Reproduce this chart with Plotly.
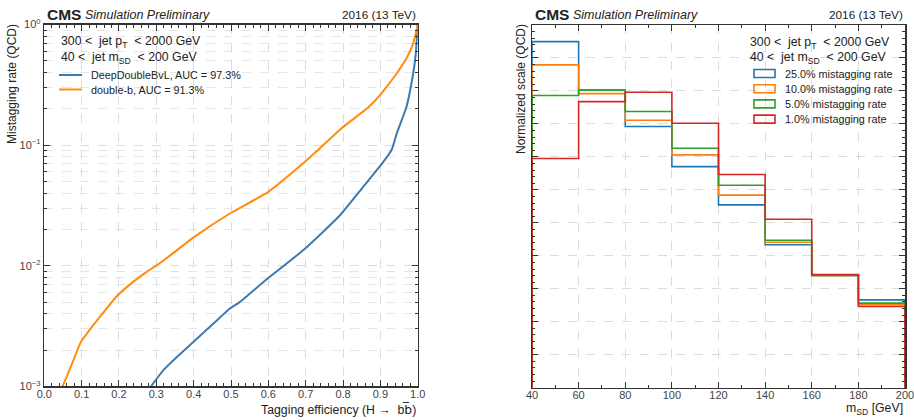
import plotly.graph_objects as go

# ---------------- data ----------------
# Left panel: ROC-like curves (tagging efficiency vs mistagging rate)
eff_ddb = [0.286, 0.319, 0.355, 0.399, 0.453, 0.497, 0.524, 0.587, 0.694, 0.792,
           0.854, 0.908, 0.930, 0.944, 0.970, 0.988, 0.995, 1.0]
mis_ddb = [1.0e-3, 1.36e-3, 1.75e-3, 2.33e-3, 3.31e-3, 4.41e-3, 5.01e-3, 7.34e-3, 1.35e-2, 2.62e-2,
           4.51e-2, 7.27e-2, 9.1e-2, 0.125, 0.208, 0.394, 0.577, 1.0]
eff_db = [0.049, 0.078, 0.098, 0.127, 0.163, 0.194, 0.238, 0.274, 0.317, 0.399, 0.497,
          0.600, 0.698, 0.738, 0.796, 0.868, 0.899, 0.944, 0.970, 0.988, 0.997, 1.0]
mis_db = [1.0e-3, 1.64e-3, 2.33e-3, 3.1e-3, 4.27e-3, 5.58e-3, 7.34e-3, 8.89e-3, 1.09e-2, 1.71e-2, 2.71e-2,
          4.1e-2, 7.27e-2, 9.4e-2, 0.138, 0.206, 0.26, 0.394, 0.525, 0.698, 0.9, 1.0]
roc_labels = ["DeepDoubleBvL, AUC = 97.3%", "double-b, AUC = 91.3%"]

# Right panel: normalized soft-drop mass distributions
mass_edges = [40, 60, 80, 100, 120, 140, 160, 180, 200]
rate_25 = [0.2099, 0.1806, 0.1584, 0.1341, 0.1109, 0.0867, 0.0681, 0.0533]
rate_10 = [0.1958, 0.1784, 0.1622, 0.1412, 0.1168, 0.0882, 0.0681, 0.0507]
rate_5 = [0.1772, 0.1804, 0.1675, 0.1452, 0.1228, 0.0894, 0.0681, 0.0513]
rate_1 = [0.1390, 0.1735, 0.1792, 0.1604, 0.1293, 0.1022, 0.0687, 0.0493]
hist_labels = ["25.0% mistagging rate", "10.0% mistagging rate",
               "5.0% mistagging rate", "1.0% mistagging rate"]

left_ticks = [1e-3, 1e-2, 1e-1, 1]
left_ticktext = ["10<sup>\u22123</sup>", "10<sup>\u22122</sup>", "10<sup>\u22121</sup>", "10<sup>0</sup>"]

# ---------------- style ----------------
W, H = 914, 420
FONT = "Liberation Sans, Arial, sans-serif"
C_BLUE, C_ORANGE, C_GREEN, C_RED = "#1f77b4", "#ff7f0e", "#2ca02c", "#d62728"
C_ROC = ["#3b7bb3", "#ff8c0a"]
C_HIST = [C_BLUE, C_ORANGE, C_GREEN, C_RED]
AX = "#333333"
GRID = "#dcdcdc"


def px(x):
    return x / W


def py(y):
    return 1 - y / H


L_X0, L_X1, L_Y0, L_Y1 = 44.3, 417.7, 24.5, 386.3
R_X0, R_X1, R_Y0, R_Y1 = 532.0, 905.0, 25.0, 387.7

fig = go.Figure()

for xs, ys, col, name in [(eff_ddb, mis_ddb, C_ROC[0], roc_labels[0]),
                          (eff_db, mis_db, C_ROC[1], roc_labels[1])]:
    fig.add_trace(go.Scatter(x=xs, y=ys, mode="lines",
                             line=dict(color=col, width=2, shape="spline", smoothing=0.5),
                             name=name, showlegend=False, hoverinfo="skip", xaxis="x", yaxis="y"))


def step_xy(edges, vals):
    xs, ys = [edges[0]], [0]
    for i, v in enumerate(vals):
        xs += [edges[i], edges[i + 1]]
        ys += [v, v]
    xs.append(edges[-1])
    ys.append(0)
    return xs, ys


for vals, col, name in zip([rate_25, rate_10, rate_5, rate_1], C_HIST, hist_labels):
    sx, sy = step_xy(mass_edges, vals)
    fig.add_trace(go.Scatter(x=sx, y=sy, mode="lines", line=dict(color=col, width=1.6),
                             name=name, showlegend=False, hoverinfo="skip", xaxis="x2", yaxis="y2"))

common_axis = dict(showline=True, linecolor=AX, linewidth=1.5, mirror="allticks",
                   ticks="inside", ticklen=6, tickwidth=1, tickcolor=AX,
                   tickfont=dict(family=FONT, size=11, color="#444"),
                   showgrid=True, gridcolor=GRID, griddash="dash", gridwidth=1,
                   zeroline=False, automargin=False, ticklabeloverflow="allow")

fig.update_layout(
    width=W, height=H, margin=dict(l=0, r=0, t=0, b=0, pad=0, autoexpand=False),
    paper_bgcolor="white", plot_bgcolor="white", showlegend=False,
    font=dict(family=FONT, color="#222"),
    xaxis=dict(domain=[px(L_X0), px(L_X1)], range=[0, 1], dtick=0.1, tick0=0,
               tickformat=".1f", anchor="y", ticklabelstandoff=-3,
               minor=dict(dtick=0.02, ticks="inside", ticklen=3, tickcolor=AX, showgrid=False),
               **common_axis),
    yaxis=dict(domain=[py(L_Y1), py(L_Y0)], type="log", range=[-3, 0], anchor="x",
               tickvals=left_ticks, ticktext=left_ticktext,
               minor=dict(dtick="D1", ticks="inside", ticklen=3, tickcolor=AX,
                          showgrid=True, gridcolor="#e6e6e6", griddash="dash"),
               **common_axis),
    xaxis2=dict(domain=[px(R_X0), px(R_X1)], range=[40, 200], dtick=20, tick0=40, anchor="y2",
                ticklabelstandoff=-3,
                minor=dict(dtick=10, ticks="inside", ticklen=3, tickcolor=AX, showgrid=False),
                **common_axis),
    yaxis2=dict(domain=[py(R_Y1), py(R_Y0)], range=[0, 0.22], dtick=0.02, tick0=0, anchor="x2",
                showticklabels=False,
                minor=dict(dtick=0.004, ticks="inside", ticklen=3, tickcolor=AX, showgrid=False),
                **common_axis),
)

ann = []
shapes = []


def text(x, y, s, size, xanchor="left", yanchor="middle", **kw):
    ann.append(dict(x=px(x), y=py(y), xref="paper", yref="paper", text=s, showarrow=False,
                    xanchor=xanchor, yanchor=yanchor, font=dict(family=FONT, size=size,
                                                                color=kw.pop("color", "#222")), **kw))


for x0, x1 in [(L_X0, L_X1), (R_X0, R_X1)]:
    text(x0 + 1, 14.5, "<b>CMS</b>", 15.5, yanchor="middle")
    text(x0 + 39, 15, "<i>Simulation Preliminary</i>", 12.5, yanchor="middle")
    text(x1, 15, "2016 (13 TeV)", 11.8, xanchor="right", yanchor="middle")

# Left panel cut text + legend
text(59, 42, "300 &lt;\u00a0 jet p<sub>T</sub>\u00a0 &lt; 2000 GeV", 12.3)
text(59, 58, "40 &lt;\u00a0 jet m<sub>SD</sub>\u00a0 &lt; 200 GeV", 12.3)
for i, (lab, col) in enumerate(zip(roc_labels, C_ROC)):
    yy = 75 + 14.5 * i
    shapes.append(dict(type="line", xref="paper", yref="paper", x0=px(59), x1=px(82),
                       y0=py(yy), y1=py(yy), line=dict(color=col, width=2)))
    text(89, yy, lab, 10.8)

# Right panel cut text + legend
text(748, 43, "300 &lt;\u00a0 jet p<sub>T</sub>\u00a0 &lt; 2000 GeV", 12.3)
text(748, 58, "40 &lt;\u00a0 jet m<sub>SD</sub>\u00a0 &lt; 200 GeV", 12.3)
for i, (lab, col) in enumerate(zip(hist_labels, C_HIST)):
    yy = 73.5 + 15.2 * i
    shapes.append(dict(type="rect", xref="paper", yref="paper", x0=px(754), x1=px(775),
                       y0=py(yy - 4), y1=py(yy + 4), line=dict(color=col, width=1.6),
                       fillcolor="rgba(0,0,0,0)"))
    text(783, yy, lab, 10.8)

# Axis titles
text(12, 22, "Mistagging rate (QCD)", 12, xanchor="center", yanchor="top", textangle=-90)
text(L_X1, 409, "Tagging efficiency (H \u2192\u00a0 b<span style='font-family:DejaVu Sans'>b\u0305</span>)",
     12.3, xanchor="right")
text(521, 22, "Normalized scale (QCD)", 12, xanchor="center", yanchor="top", textangle=-90)
text(R_X1, 409, "m<sub>SD</sub> [GeV]", 12.3, xanchor="right")

fig.update_layout(annotations=ann, shapes=shapes)
fig.write_html("out.html", config={"displayModeBar": False, "staticPlot": True},
               post_script="document.body.style.margin='0px';document.body.style.overflow='hidden';")
